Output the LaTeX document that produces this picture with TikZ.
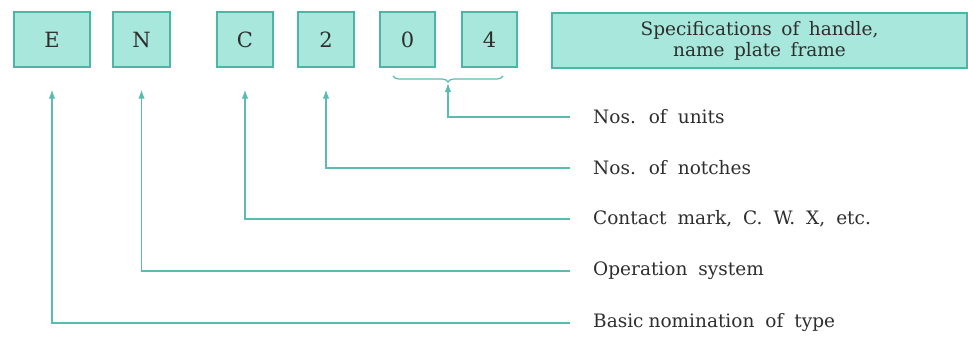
\documentclass[tikz,border=0pt]{standalone}
\usepackage{fontspec}
\setmainfont{DejaVu Serif}
\usepackage{xcolor}
\usepackage{tikz}
\usetikzlibrary{arrows.meta,positioning,decorations.pathreplacing}
\definecolor{codefill}{HTML}{A8E7DB}
\definecolor{codeedge}{HTML}{4DB5A6}
\definecolor{leader}{HTML}{5CBBB0}
\definecolor{ink}{HTML}{2E2E2E}
\newcommand{\labelfont}{\fontsize{18.5}{20}\selectfont\spaceskip=11pt\relax}
\newcommand{\specfont}{\fontsize{18.5}{21}\selectfont\spaceskip=9.5pt\relax}

\begin{document}
\begin{tikzpicture}[
  x=1pt,y=-1pt,
  codebox/.style={draw=codeedge,fill=codefill,line width=1.3pt,minimum height=55pt,
    text=ink,font=\fontsize{21}{22}\selectfont,inner sep=0pt},
  label/.style={anchor=west,text=ink,font=\labelfont,inner sep=2pt},
  arrow/.style={-{Latex[length=9pt,width=6.5pt]},draw=leader,line width=1.2pt}
]
\useasboundingbox (0,0) rectangle (968,341);
% code boxes
\node[codebox,minimum width=76pt] (cE) at (52,39.5) {E};
\node[codebox,minimum width=57pt] (cN) at (141.5,39.5) {N};
\node[codebox,minimum width=56pt] (cC) at (245,39.5) {C};
\node[codebox,minimum width=56pt] (c2) at (326,39.5) {2};
\node[codebox,minimum width=55pt] (c0) at (407.5,39.5) {0};
\node[codebox,minimum width=55pt] (c4) at (489.5,39.5) {4};
\node[codebox,minimum width=415pt,align=center,font=\specfont] (spec) at (759.5,40.5)
  {Specifications of handle,\\name plate frame};
% brace under 0 and 4
\draw[draw=leader,line width=1.2pt,decorate,decoration={brace,mirror,amplitude=6pt}]
  (393,76) -- (503,76);
\coordinate (units) at (448,83);
% labels
\node[label] (lunits) at (591,117) {Nos. of units};
\node[label] (lnotch) at (591,168) {Nos. of notches};
\node[label] (lcont) at (591,219) {Contact mark, C. W. X, etc.};
\node[label] (loper) at (591,271) {Operation system};
\node[label] (lbasic) at (591,323) {Basic\hspace{5pt}nomination of type};
% leaders
\draw[arrow] ([xshift=-21pt]lunits.west) -| (units);
\draw[arrow,shorten >=22pt] ([xshift=-21pt]lnotch.west) -| (c2.south);
\draw[arrow,shorten >=22pt] ([xshift=-21pt]lcont.west) -| (cC.south);
\draw[arrow,shorten >=22pt] ([xshift=-21pt]loper.west) -| (cN.south);
\draw[arrow,shorten >=22pt] ([xshift=-21pt]lbasic.west) -| (cE.south);
\end{tikzpicture}
\end{document}
